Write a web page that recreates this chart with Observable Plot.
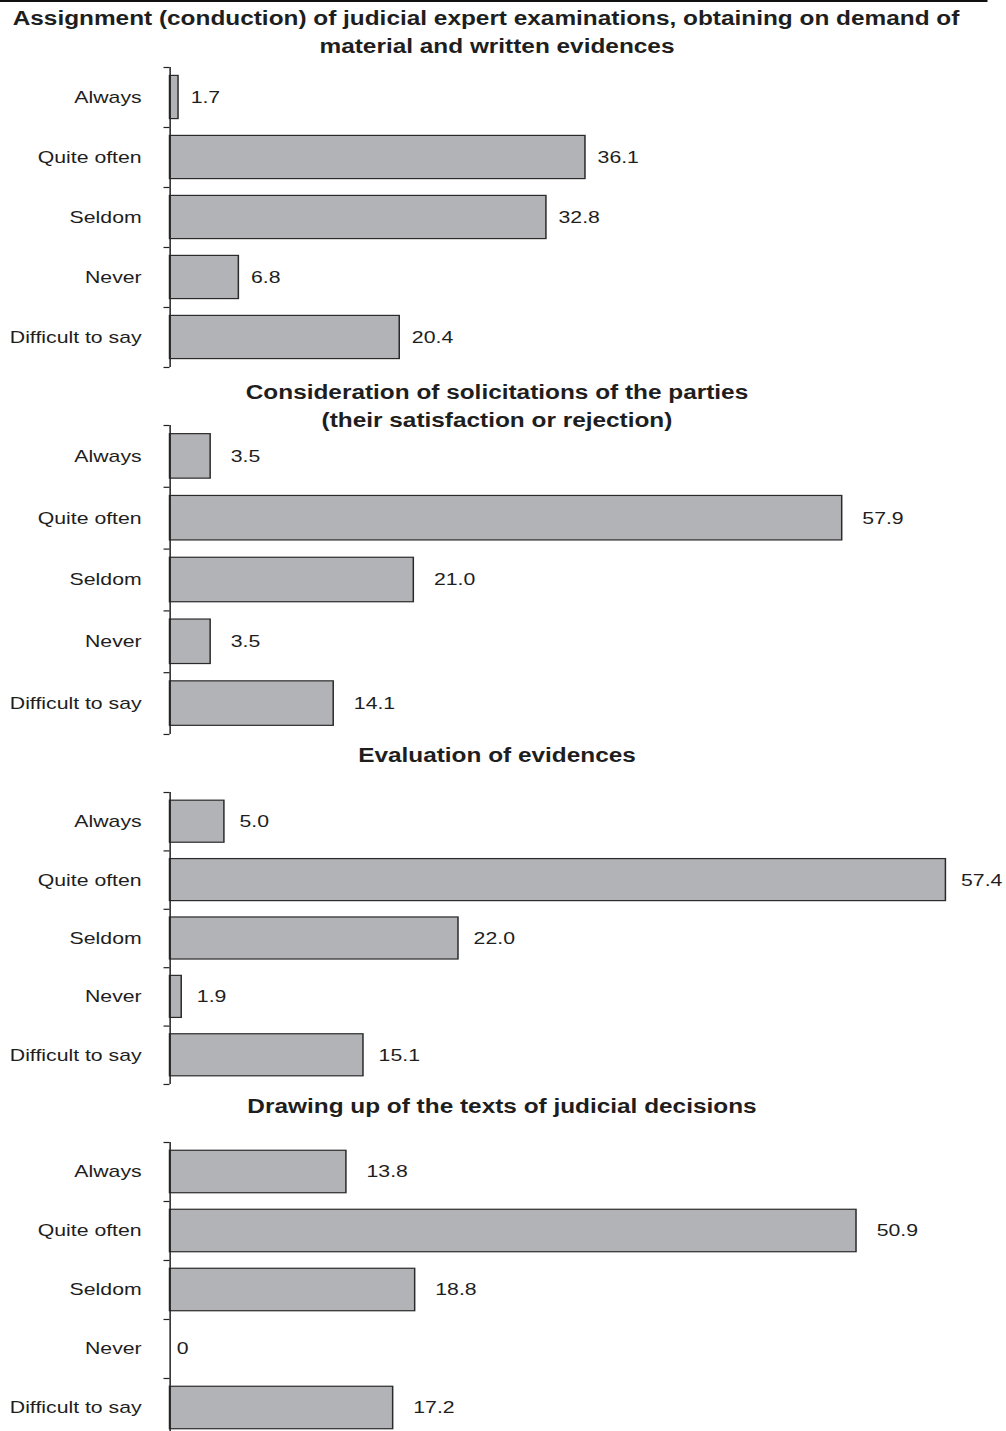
<!DOCTYPE html>
<html><head><meta charset="utf-8">
<script src="https://cdn.jsdelivr.net/npm/d3@7"></script>
<script src="https://cdn.jsdelivr.net/npm/@observablehq/plot@0.6"></script>
<style>
html,body{margin:0;padding:0;background:#fff;overflow:hidden;}
#stage{position:relative;width:804.8px;height:1431px;transform:scaleX(1.25);transform-origin:0 0;font-family:"Liberation Sans",Arial,sans-serif;color:#1e1e1e;}
.title{position:absolute;width:795.2px;text-align:center;font-weight:bold;font-size:19.5px;line-height:28px;white-space:nowrap;}
.panel{position:absolute;left:0;}
#topline{position:absolute;left:0;top:0;width:790.4px;height:2px;background:#111;}
</style></head><body><div id="stage"><div id="topline"></div></div>
<script>
// ---- data ----
const categories = ["Always", "Quite often", "Seldom", "Never", "Difficult to say"];
const title1 = ["Assignment (conduction) of judicial expert examinations, obtaining on demand of", "material and written evidences"];
const title2 = ["Consideration of solicitations of the parties", "(their satisfaction or rejection)"];
const title3 = ["Evaluation of evidences"];
const title4 = ["Drawing up of the texts of judicial decisions"];
const values1 = [1.7, 36.1, 32.8, 6.8, 20.4];
const values2 = [3.5, 57.9, 21.0, 3.5, 14.1];
const values3 = [5.0, 57.4, 22.0, 1.9, 15.1];
const values4 = [13.8, 50.9, 18.8, 0, 17.2];

// ---- layout (page pixels) ----
const S = 1.25;              // horizontal stretch of the whole figure
const inner = 1006 / S;
const axisX = 169.5;
const layout = [
  {title: title1, shifts: [-11, 0], values: values1, titleTop: 4,    axisTop: 67,   axisBottom: 367,  xMin: 0.98, ppu: 11.83, labelDx: 12},
  {title: title2, shifts: [0, 0],   values: values2, titleTop: 378,  axisTop: 425,  axisBottom: 734,  xMin: 0,    ppu: 11.61, labelDx: 20},
  {title: title3, shifts: [0],      values: values3, titleTop: 741,  axisTop: 792,  axisBottom: 1084, xMin: 1.05, ppu: 13.77, labelDx: 15},
  {title: title4, shifts: [5],      values: values4, titleTop: 1092, axisTop: 1142, axisBottom: 1437, xMin: 0.97, ppu: 13.75, labelDx: 20}
];
const fmt = v => v === 0 ? "0" : v.toFixed(1);
const stage = document.getElementById("stage");
const pad = 4;

for (const L of layout) {
  L.title.forEach((line, k) => {
    const t = document.createElement("div");
    t.className = "title";
    t.style.top = (L.titleTop + 28 * k) + "px";
    t.style.left = (L.shifts[k] / S) + "px";
    t.textContent = line;
    stage.appendChild(t);
  });

  const rows = categories.map((c, i) => ({cat: c, i, v: L.values[i]}));
  const mL = axisX / S;
  const span = 60;
  const plotW = span * L.ppu / S;
  const chart = Plot.plot({
    width: inner,
    height: (L.axisBottom - L.axisTop) + 2 * pad,
    marginLeft: mL,
    marginRight: inner - mL - plotW,
    marginTop: pad,
    marginBottom: pad,
    x: {domain: [L.xMin, L.xMin + span], axis: null},
    y: {domain: [-0.5, 4.5], reverse: true, axis: null},
    style: {fontFamily: "'Liberation Sans', Arial, sans-serif", fontSize: "17px", color: "#1e1e1e", background: "transparent", overflow: "visible"},
    marks: [
      Plot.rectX(rows.filter(d => d.v > L.xMin), {
        x1: d => L.xMin, x2: "v",
        y1: d => d.i - 0.36, y2: d => d.i + 0.36,
        fill: "#b2b3b7", stroke: "#2a2a2a", strokeWidth: 1.2
      }),
      Plot.ruleX([L.xMin], {stroke: "#222", strokeWidth: 1.2}),
      Plot.axisY(d3.range(-0.5, 5, 1), {tickSize: 4.8, tickFormat: () => "", label: null, stroke: "#222", strokeWidth: 1.2}),
      Plot.axisY(d3.range(0, 5), {tickSize: 0, tickPadding: 22.8, tickFormat: i => categories[i], label: null, fontSize: 17, fill: "#1e1e1e"}),
      Plot.text(rows, {x: "v", y: "i", text: d => fmt(d.v), textAnchor: "start", dx: L.labelDx / S, fontSize: 17, fill: "#1e1e1e"})
    ]
  });
  chart.classList.add("panel");
  chart.style.top = (L.axisTop - pad) + "px";
  stage.appendChild(chart);
}
</script>
</body></html>
